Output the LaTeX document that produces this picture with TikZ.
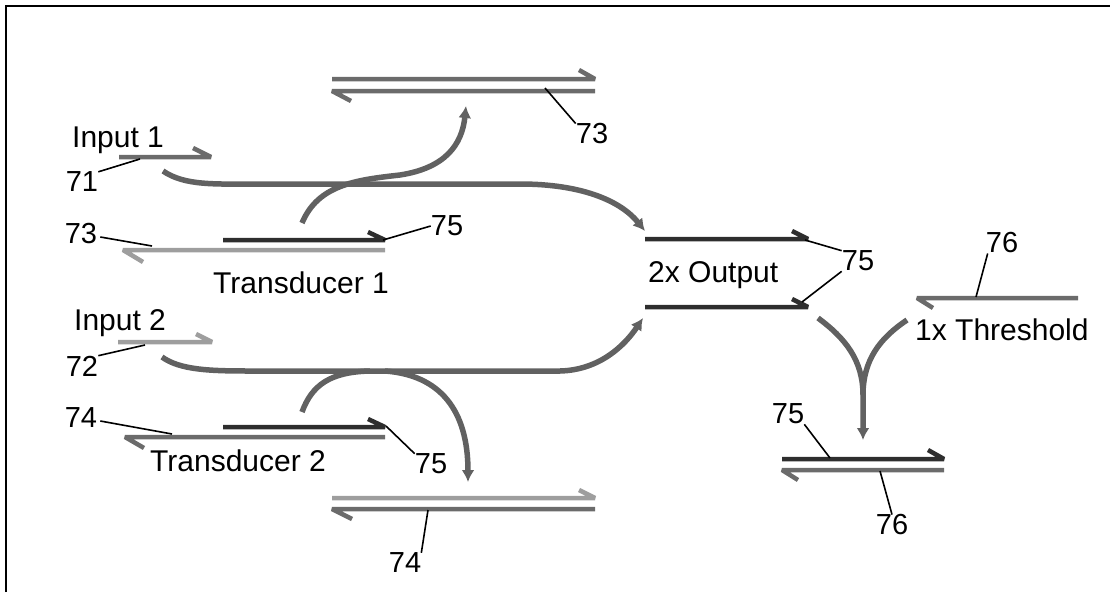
\documentclass[tikz,border=0pt]{standalone}
\usepackage{fontspec}
\setmainfont{Liberation Sans}
\usetikzlibrary{arrows.meta}
\begin{document}
\begin{tikzpicture}[x=1pt,y=-1pt,
  txt/.style={inner sep=0pt,font=\fontsize{30}{32}\selectfont},
  num/.style={inner sep=0pt,font=\fontsize{29}{31}\selectfont},
  lead/.style={line width=1.6pt,black},
  sdark/.style={line width=4.5pt,black!82,line join=bevel},
  smid/.style={line width=4.5pt,black!58,line join=bevel},
  slight/.style={line width=4.5pt,black!38,line join=bevel},
  flow/.style={line width=5.5pt,black!62,-{Latex[length=12pt,width=13pt]}},
  flowplain/.style={line width=5.5pt,black!62}]
\useasboundingbox (0,0) rectangle (1110,592);
% frame (left and top edges)
\draw[line width=2.2pt] (6,592) -- (6,6) -- (1110,6);

% ---- top strand pair (73)
\draw[smid] (332,79) -- (595,79) -- (579,70);
\draw[smid] (595,91) -- (332,91) -- (351,101);
\coordinate (l73a) at (545,88);
\node[num] (n73a) at (592,134) {73};
\draw[lead] (l73a) -- (n73a.north west);

% ---- input 1
\node[txt,anchor=base west] (in1) at (72,147) {Input 1};
\draw[smid] (119,157) -- (211,157) -- (193,148);
\node[num] (n71) at (82,182) {71};
\coordinate (l71) at (140,159);
\draw[lead] (n71.north east) -- (l71);

% ---- transducer 1
\draw[sdark] (223,240) -- (385,240) -- (368,232);
\draw[slight] (385,250) -- (123,250) -- (143,262);
\node[txt,anchor=base west] (tr1) at (213,293) {Transducer 1};
\node[num] (n73b) at (81,234) {73};
\coordinate (l73b) at (152,246);
\draw[lead] (n73b.east) ++(3,3) -- (l73b);
\node[num] (n75a) at (447,226) {75};
\coordinate (l75a) at (383,240);
\draw[lead] (l75a) -- (n75a.west);

% ---- curves from input 1 / transducer 1
\draw[flow] (163,171) .. controls (185,186) and (215,184) .. (260,184)
  -- (520,184) .. controls (580,184) and (620,200) .. (645,231);
\draw[flow] (302,223) .. controls (318,185) and (355,180) .. (400,175)
  .. controls (445,168) and (462,145) .. (466,106);

% ---- 2x output
\draw[sdark] (645,239) -- (808,239) -- (792,231);
\draw[sdark] (645,307) -- (808,307) -- (792,299);
\node[txt,anchor=base west] (out) at (648,282) {2x Output};
\node[num] (n75b) at (858,261) {75};
\coordinate (l75b) at (805,240);
\coordinate (l75c) at (802,302);
\draw[lead] (l75b) -- (n75b.north west);
\draw[lead] (l75c) -- (n75b.south west);

% ---- input 2
\node[txt,anchor=base west] (in2) at (74,330) {Input 2};
\draw[slight] (118,342) -- (212,342) -- (196,334);
\node[num] (n72) at (82,366) {72};
\coordinate (l72) at (145,345);
\draw[lead] (n72.north east) -- (l72);

% ---- curves from input 2 / transducer 2
\draw[flow] (162,357) .. controls (180,370) and (210,371) .. (250,371)
  -- (560,371) .. controls (600,370) and (625,345) .. (643,318);
\draw[flowplain] (302,412) .. controls (312,385) and (330,372) .. (370,371);
\draw[flow] (385,371) .. controls (440,375) and (468,410) .. (468,482);

% ---- transducer 2
\draw[sdark] (223,427) -- (385,427) -- (368,419);
\draw[smid] (385,437) -- (125,437) -- (144,448);
\node[txt,anchor=base west] (tr2) at (150,471) {Transducer 2};
\node[num] (n74a) at (81,418) {74};
\coordinate (l74a) at (172,434);
\draw[lead] (n74a.east) ++(3,3) -- (l74a);
\node[num] (n75d) at (431,464) {75};
\coordinate (l75d) at (386,426);
\draw[lead] (l75d) -- (n75d.north west);

% ---- bottom strand pair (74)
\draw[slight] (332,498) -- (595,498) -- (579,490);
\draw[smid] (595,509) -- (332,509) -- (352,519);
\node[num] (n74b) at (405,563) {74};
\coordinate (l74b) at (428,510);
\draw[lead] (l74b) -- (n74b.north east);

% ---- threshold (76)
\draw[smid] (1078,298) -- (917,298) -- (933,308);
\node[txt,anchor=base west] (thr) at (915,340) {1x Threshold};
\node[num] (n76a) at (1002,243) {76};
\coordinate (l76a) at (976,297);
\draw[lead] (n76a.south west) ++(2,0) -- (l76a);

% ---- V-shaped merge
\draw[flowplain] (818,318) .. controls (845,338) and (863,360) .. (863,395);
\draw[flow] (907,320) .. controls (880,338) and (863,360) .. (863,395) -- (863,440);

% ---- product duplex (75/76)
\draw[sdark] (782,459) -- (944,459) -- (928,450);
\draw[smid] (944,470) -- (782,470) -- (798,480);
\node[num] (n75e) at (788,414) {75};
\coordinate (l75e) at (830,458);
\draw[lead] (n75e.south east) -- (l75e);
\node[num] (n76b) at (892,525) {76};
\coordinate (l76b) at (880,471);
\draw[lead] (l76b) -- (n76b.north);
\end{tikzpicture}
\end{document}
